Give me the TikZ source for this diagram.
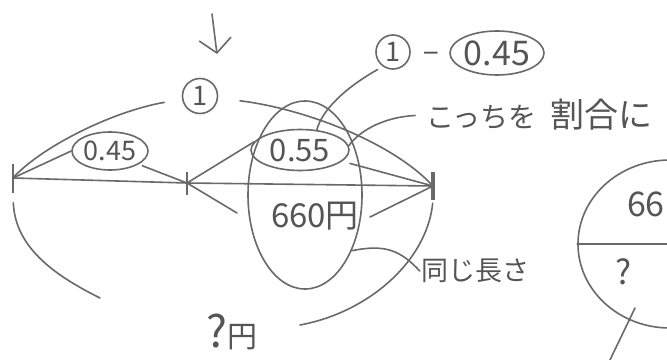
\documentclass[tikz,border=0pt]{standalone}
\usepackage{fontspec}
\setmainfont{Noto Sans CJK JP}
\usetikzlibrary{shapes.geometric,arrows.meta}
\definecolor{penc}{RGB}{105,105,105}
\definecolor{inkc}{RGB}{85,85,85}
\begin{document}
\begin{tikzpicture}[x=1pt,y=-1pt,
  pen/.style={draw=penc, line width=1.6pt, line cap=round},
  txt/.style={text=inkc, inner sep=1pt},
  oval/.style={ellipse, draw=penc, line width=1.6pt, inner sep=0pt, text=inkc},
  tickmark/.style={rectangle, fill=penc, inner sep=0pt, minimum width=2.5pt},
  circone/.style={circle, draw=penc, line width=1.6pt, inner sep=0pt, text=inkc,
    font=\fontsize{27}{27}\selectfont},
]
\fill[white] (0,0) rectangle (667,359);
\useasboundingbox (0,0) rectangle (667,359);
\clip (0,0) rectangle (667,359);

% top arrow
\coordinate (arrS) at (212,14);
\coordinate (arrE) at (217,54);
\draw[pen, -{Straight Barb[length=14pt,width=32pt]}] (arrS) -- (arrE);

% circled ones
\node[circone, minimum size=35pt] (one) at (200,96) {1};
\node[circone, minimum size=34pt] (one2) at (393,52) {1};
\node[txt, font=\fontsize{28}{28}\selectfont] (dash) at (431,58) {−};
\node[oval, minimum width=94pt, minimum height=44pt, font=\fontsize{34}{34}\selectfont] (c) at (497,53) {0.45};

% Japanese note
\node[txt, anchor=west] (ko) at (425,115) {{\fontsize{28}{28}\selectfont こっちを}\kern14pt{\fontsize{34}{34}\selectfont 割合に}};

% ellipses
\node[oval, minimum width=76pt, minimum height=38pt, font=\fontsize{27}{27}\selectfont] (a) at (110,151) {0.45};
\node[oval, minimum width=98pt, minimum height=41pt, font=\fontsize{31}{31}\selectfont] (b) at (300,150) {0.55};
\node[oval, minimum width=114pt, minimum height=188pt] (big) at (305,195) {};

% ticks
\node[tickmark, minimum height=29pt] (L) at (13,178) {};
\node[tickmark, minimum height=23pt] (M) at (187,183) {};
\node[tickmark, minimum height=28pt, minimum width=4pt] (R) at (433,186) {};

% texts
\node[txt, font=\fontsize{33}{33}\selectfont] (yen) at (315,216) {660円};
\node[txt, font=\fontsize{27}{27}\selectfont] (same) at (475,271) {同じ長さ};
\node[txt] (q) at (232,332) {{\fontsize{44}{44}\selectfont ?}{\fontsize{30}{30}\selectfont 円}};

% right circle
\node[oval, minimum width=184pt, minimum height=168pt] (rc) at (670,244) {};
\node[txt, anchor=east, font=\fontsize{34}{34}\selectfont] (r66) at (666,204) {66};
\node[txt, font=\fontsize{34}{34}\selectfont] (rq) at (624,272) {?};

% free ends
\coordinate (yl) at (237,213);
\coordinate (yr) at (370,217);
\coordinate (qL) at (100,298);
\coordinate (qR) at (300,325);
\coordinate (rl1) at (635,308);
\coordinate (rl2) at (609,362);

% main line
\draw[pen] (L.center) -- (M.center) -- (R.center);

% connectors
\draw[pen, shorten <=18pt] (one) .. controls (110,112) and (40,148) .. (L.center);
\draw[pen, shorten <=22pt] (one) .. controls (300,108) and (390,140) .. (R.center);
\draw[pen] (a.west) -- (L.center);
\draw[pen, shorten <=4pt] (a.-25) -- (M.center);
\draw[pen] (b.170) -- (M.center);
\draw[pen, shorten <=8pt] (b.-15) -- (R.center);
\draw[pen, shorten <=6pt] (one2.235) .. controls (345,88) and (322,110) .. (b.50);
\draw[pen, shorten <=10pt] (ko.west) .. controls (385,117) and (360,130) .. (b.5);
\draw[pen] (M.center) -- (yl);
\draw[pen] (yr) -- (R.center);
\draw[pen] (big.-50) .. controls (385,244) and (400,250) .. (same.west);
\draw[pen, shorten <=10pt] (L.south) .. controls (15,250) and (60,278) .. (qL);
\draw[pen, shorten <=3pt] (R.south) .. controls (427,260) and (370,312) .. (qR);
\draw[pen] (rc.west) -- (rc.east);
\draw[pen] (rl1) -- (rl2);
\end{tikzpicture}
\end{document}
